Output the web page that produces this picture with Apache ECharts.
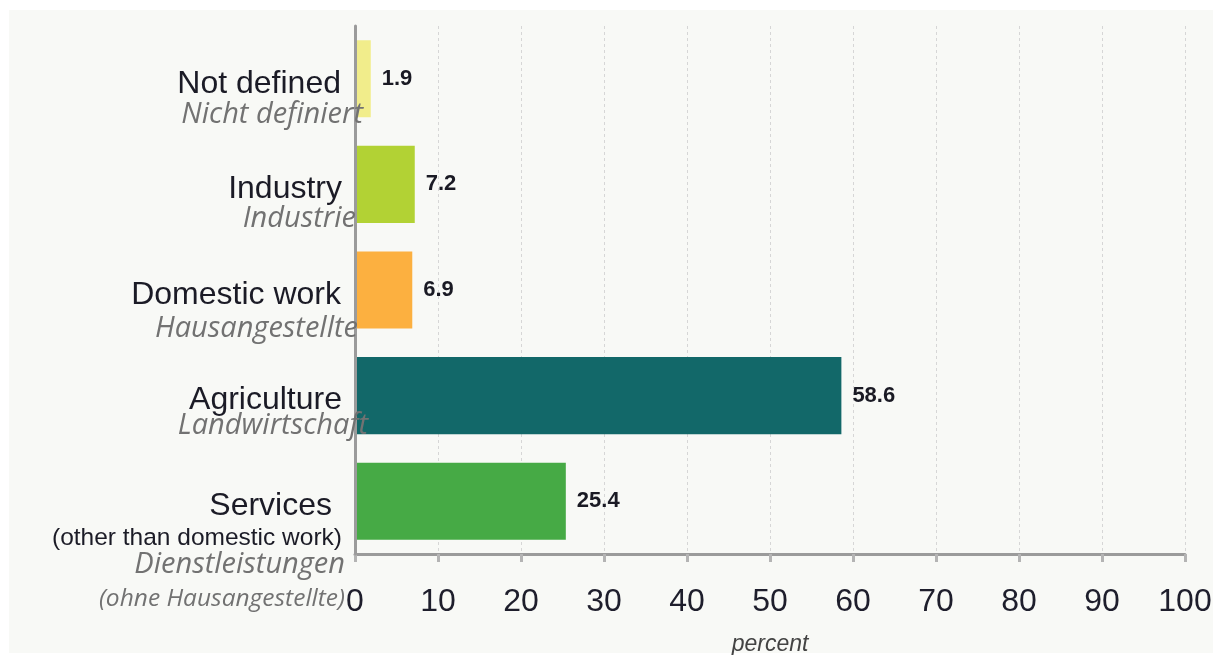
<!DOCTYPE html>
<html>
<head>
<meta charset="utf-8">
<script src="https://cdn.jsdelivr.net/npm/echarts@6/dist/echarts.min.js"></script>
<style>
  html, body { margin: 0; padding: 0; background: #ffffff; }
  #panel { position: absolute; left: 9px; top: 10px; width: 1204px; height: 643px; background: #f8f9f6; }
  #chart { position: absolute; left: 0; top: 0; width: 1215px; height: 655px; }
</style>
</head>
<body>
<div id="panel"></div>
<div id="chart"></div>
<script>
// data
const categories = ['Not defined', 'Industry', 'Domestic work', 'Agriculture', 'Services']
const categoryNotes = ['', '', '', '', '(other than domestic work)']
const germanNames = ['Nicht definiert', 'Industrie', 'Hausangestellte', 'Landwirtschaft', 'Dienstleistungen']
const germanNotes = ['', '', '', '', '(ohne Hausangestellte)']
const values = [1.9, 7.2, 6.9, 58.6, 25.4]
const xMin = 0
const xMax = 100
const xStep = 10

// bar colours, one per category
const barColors = ['#f1ed8b', '#b2d234', '#fcb040', '#126869', '#46aa45']

// label line styles
const lineKinds = {
  en: { fontSize: 32, color: '#1b1b26', fontFamily: 'Liberation Sans' },
  note: { fontSize: 24.5, color: '#1b1b26', fontFamily: 'Liberation Sans' },
  de: { fontSize: 29, color: '#727272', fontStyle: 'italic', fontFamily: 'Open Sans' },
  deNote: { fontSize: 24.5, color: '#727272', fontStyle: 'italic', fontFamily: 'Open Sans' },
}
// [lineHeight, right padding] for each text line of each category
const labelLayout = [
  [[32, 27], [29, 5]],
  [[32, 26], [26, 12]],
  [[32, 27], [36, 10]],
  [[32, 26], [18, 0]],
  [[32, 36], [32, 26], [21, 23], [48, 23]],
]
const enShift = 5

const rich = {}
const labelText = []
categories.forEach((name, i) => {
  const texts = [name, categoryNotes[i], germanNames[i], germanNotes[i]]
  const kinds = ['en', 'note', 'de', 'deNote']
  const lines = []
  texts.forEach((t, k) => {
    if (t) lines.push({ t, kind: kinds[k] })
  })
  let below = 0
  const parts = []
  lines.forEach((ln, j) => {
    const [h, pad] = labelLayout[i][j]
    if (j > 0) below += h
    const key = 'c' + i + '_' + j
    rich[key] = Object.assign({}, lineKinds[ln.kind], {
      lineHeight: h,
      align: 'right',
      padding: [0, pad, 0, 0],
    })
    parts.push('{' + key + '|' + ln.t + '}')
  })
  const sp = Math.max(below + 2 * enShift, 1)
  rich['sp' + i] = { fontSize: 1, lineHeight: sp, height: sp }
  labelText.push(['{sp' + i + '| }'].concat(parts).join('\n'))
})

const chart = echarts.init(document.getElementById('chart'))
chart.setOption({
  backgroundColor: 'transparent',
  animation: false,
  grid: { left: 355, right: 30, top: 26, bottom: 101, outerBoundsMode: 'none', containLabel: false },
  xAxis: {
    type: 'value',
    min: xMin,
    max: xMax,
    interval: xStep,
    name: 'percent',
    nameLocation: 'middle',
    nameGap: 79,
    nameTextStyle: { fontSize: 23, fontStyle: 'italic', color: '#444444', fontFamily: 'Liberation Sans Narrow, Liberation Sans' },
    axisLine: { show: true, lineStyle: { color: '#9b9b9b', width: 3 } },
    axisTick: { show: true, length: 8, lineStyle: { color: '#b4b4b4', width: 3 } },
    axisLabel: { fontSize: 32, color: '#1e1e2c', margin: 32, fontFamily: 'Liberation Sans' },
    splitLine: { show: true, lineStyle: { color: '#d6d6d6', type: [3, 3], width: 1 } },
  },
  yAxis: {
    type: 'category',
    inverse: true,
    data: categories,
    z: 5,
    axisLine: { show: true, lineStyle: { color: '#9b9b9b', width: 3 } },
    axisTick: { show: false },
    axisLabel: {
      interval: 0,
      margin: -13,
      formatter: (v, i) => labelText[i],
      rich: rich,
    },
  },
  series: [
    {
      type: 'bar',
      data: values.map((v, i) => ({ value: v, itemStyle: { color: barColors[i] } })),
      barCategoryGap: '27%',
      label: {
        show: true,
        position: 'right',
        distance: 11,
        fontSize: 22,
        fontWeight: 'bold',
        color: '#1a1a24',
        fontFamily: 'Liberation Sans',
        formatter: p => p.value.toFixed(1),
      },
    },
  ],
})
</script>
</body>
</html>
